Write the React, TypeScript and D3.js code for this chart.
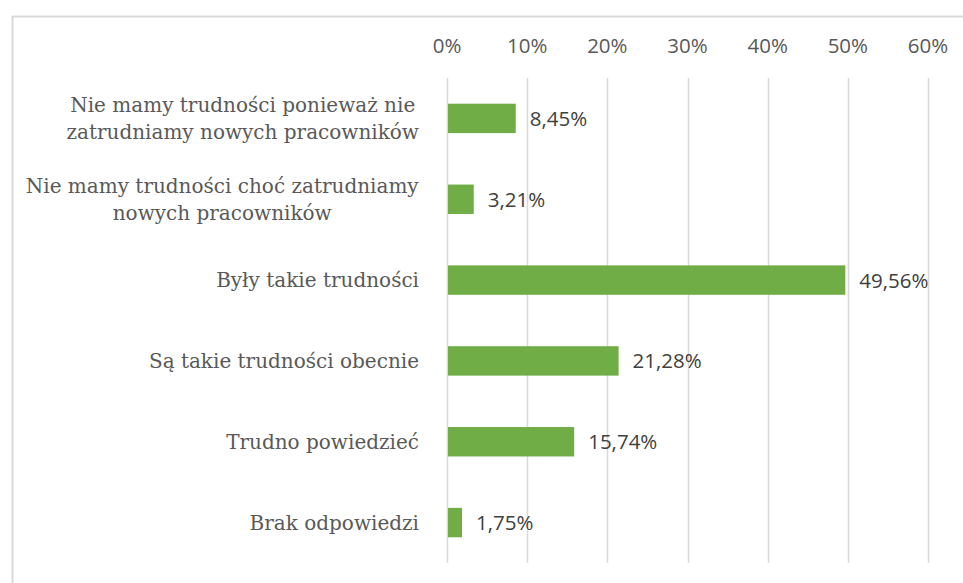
import { useEffect, useRef } from 'react'
import * as d3 from 'd3'

const categories = [
  ['Nie mamy trudności ponieważ nie', 'zatrudniamy nowych pracowników'],
  ['Nie mamy trudności choć zatrudniamy', 'nowych pracowników'],
  ['Były takie trudności'],
  ['Są takie trudności obecnie'],
  ['Trudno powiedzieć'],
  ['Brak odpowiedzi']
]
const values = [8.45, 3.21, 49.56, 21.28, 15.74, 1.75]
const ticks = [0, 10, 20, 30, 40, 50, 60]

const App = () => {
  const svgRef = useRef<SVGSVGElement>(null)

  useEffect(() => {
    const width = 963
    const height = 583
    const left = 447
    const right = 928
    const top = 78
    const bottom = 563

    const svg = d3.select(svgRef.current)
    svg.selectAll('*').remove()
    svg.attr('width', width).attr('height', height)

    // frame
    svg.append('path')
      .attr('d', `M12.5,${height} V16.5 H${width}`)
      .attr('fill', 'none')
      .attr('stroke', '#d9d9d9')
      .attr('stroke-width', 2)

    const x = d3.scaleLinear().domain([0, 60]).range([left, right])
    const y = d3.scaleBand<number>()
      .domain(d3.range(values.length))
      .range([top, bottom])
      .paddingInner(0.636)
      .paddingOuter(0.318)

    svg.append('g')
      .selectAll('line')
      .data(ticks)
      .enter()
      .append('line')
      .attr('x1', d => Math.round(x(d)) + 0.5)
      .attr('x2', d => Math.round(x(d)) + 0.5)
      .attr('y1', top)
      .attr('y2', bottom)
      .attr('stroke', '#d9d9d9')
      .attr('stroke-width', 1.5)

    svg.append('g')
      .selectAll('text')
      .data(ticks)
      .enter()
      .append('text')
      .attr('x', d => x(d))
      .attr('y', 53)
      .attr('text-anchor', 'middle')
      .attr('fill', '#595959')
      .style('font-family', '"Open Sans", sans-serif')
      .style('font-size', '20.5px')
      .text(d => `${d}%`)

    svg.append('g')
      .selectAll('rect')
      .data(values)
      .enter()
      .append('rect')
      .attr('x', x(0) + 1)
      .attr('y', (_, i) => y(i)!)
      .attr('width', d => x(d) - x(0))
      .attr('height', y.bandwidth())
      .attr('fill', '#70ad47')

    svg.append('g')
      .selectAll('text')
      .data(values)
      .enter()
      .append('text')
      .attr('x', d => x(d) + 15)
      .attr('y', (_, i) => y(i)! + y.bandwidth() / 2 + 7.5)
      .attr('fill', '#404040')
      .style('font-family', '"Open Sans", sans-serif')
      .style('font-size', '20.5px')
      .text(d => d.toFixed(2).replace('.', ',') + '%')

    const labels = svg.append('g')
      .selectAll('text')
      .data(categories)
      .enter()
      .append('text')
      .attr('text-anchor', 'middle')
      .attr('fill', '#595959')
      .style('font-family', '"DejaVu Serif", serif')
      .style('font-size', '20px')

    labels.each(function (lines, i) {
      const cy = y(i)! + y.bandwidth() / 2
      const lh = 27
      const t = d3.select(this)
      lines.forEach((ln, j) => {
        t.append('tspan')
          .attr('x', 0)
          .attr('y', cy + 7 + (j - (lines.length - 1) / 2) * lh)
          .text(ln)
      })
      // right-align the block, centre lines within it
      const bb = (this as SVGTextElement).getBBox()
      t.attr('transform', `translate(${419 - bb.width / 2},0)`)
    })
  }, [])

  return <svg ref={svgRef} style={{ display: 'block', position: 'absolute', left: 0, top: 0 }}></svg>
}

export default App
